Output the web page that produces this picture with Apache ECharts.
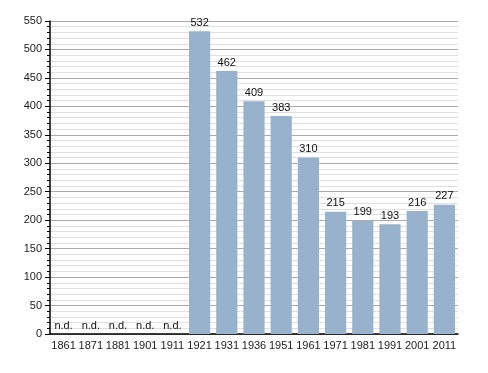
<!DOCTYPE html>
<html><head><meta charset="utf-8">
<script src="https://cdn.jsdelivr.net/npm/echarts@6/dist/echarts.min.js"></script>
<style>html,body{margin:0;padding:0;background:#fff}#c{width:488px;height:373px}</style>
</head><body><div id="c"></div>
<script>
var categories = ['1861','1871','1881','1901','1911','1921','1931','1936','1951','1961','1971','1981','1991','2001','2011'];
var population = [null,null,null,null,null,532,462,409,383,310,215,199,193,216,227];
var yTicks = [0,50,100,150,200,250,300,350,400,450,500,550];

var chart = echarts.init(document.getElementById('c'), null, {renderer:'canvas'});
var font = 'Liberation Sans, Arial, sans-serif';
var seriesData = population.map(function(v){
  return v === null ? {value:0, label:{formatter:'n.d.'}} : {value:v};
});
chart.setOption({
  animation:false,
  grid:{left:50,right:30,top:21,bottom:39,containLabel:false},
  xAxis:{type:'category',data:categories,
    axisLine:{lineStyle:{color:'#000',width:1.5}},
    axisTick:{show:false},
    axisLabel:{interval:0,hideOverlap:false,color:'#222',fontSize:11,fontFamily:font,margin:6}},
  yAxis:{type:'value',min:yTicks[0],max:yTicks[yTicks.length-1],interval:50,
    axisLine:{show:true,lineStyle:{color:'#000',width:1.5}},
    axisTick:{show:true,length:5,lineStyle:{color:'#000'}},
    minorTick:{show:true,splitNumber:5,length:3,lineStyle:{color:'#000'}},
    splitLine:{lineStyle:{color:'#aaa',width:1}},
    minorSplitLine:{show:true,lineStyle:{color:'#e0e0e0',width:1}},
    axisLabel:{color:'#222',fontSize:11,fontFamily:font,margin:8}},
  series:[{type:'bar',data:seriesData,barCategoryGap:'22%',
    itemStyle:{color:'#98b1cc'},
    label:{show:true,position:'top',distance:3,color:'#111',fontSize:11,fontFamily:font}}]
});
</script></body></html>
